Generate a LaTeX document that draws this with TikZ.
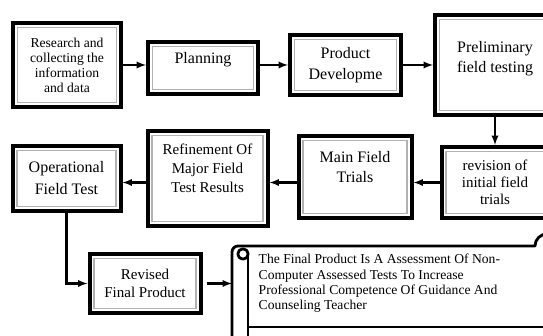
\documentclass[tikz,border=0pt]{standalone}
\usepackage{fontspec}
\setmainfont{Liberation Serif}
\usetikzlibrary{arrows}
\usetikzlibrary{positioning}

\begin{document}
\begin{tikzpicture}[x=1pt, y=1pt, >=latex,
        stage/.style={draw, rectangle, line width=4pt, align=center, inner sep=2pt,
                      font=\fontsize{16}{19.5}\selectfont},
        rim/.style={draw=gray!60, line width=1.1pt},
        flow/.style={->, line width=2.2pt},
        scroll/.style={draw, line width=2.8pt, line join=round}]
        \clip (0,0) rectangle (543,336);

        % first row
        \node[stage, minimum width=108pt, minimum height=84pt,
              font=\fontsize{13.6}{15}\selectfont] (research) at (67,271)
              {Research and\\collecting the\\information\\and data};
        \node[stage, minimum width=110pt, minimum height=52pt, text depth=19.5pt]
              (planning) [right=23pt of research, yshift=-3pt] {Planning};
        \node[stage, minimum width=111pt, minimum height=60pt, font=\fontsize{16}{21}\selectfont]
              (product) [right=28pt of planning, yshift=3pt] {Product\\Developme};
        \node[stage, minimum width=120pt, minimum height=100pt, text depth=16pt]
              (preliminary) [right=30pt of product] {Preliminary\\field testing};

        % second row
        \node[stage, minimum width=107pt, minimum height=71pt, font=\fontsize{15}{17}\selectfont]
              (revision) [below=28pt of preliminary] {revision of\\initial field\\trials};
        \node[stage, minimum width=113pt, minimum height=82pt, text depth=20pt]
              (main) [left=26pt of revision, yshift=5.5pt] {Main Field\\Trials};
        \node[stage, minimum width=120pt, minimum height=95pt, text depth=20pt,
              font=\fontsize{15}{19}\selectfont]
              (refinement) [left=27pt of main, yshift=-1.5pt] {Refinement Of\\Major Field\\Test Results};
        \node[stage, minimum width=108pt, minimum height=65pt, font=\fontsize{16}{22}\selectfont]
              (operational) [left=23pt of refinement] {Operational\\Field Test};

        % last row
        \node[stage, minimum width=111pt, minimum height=59pt, font=\fontsize{15}{18.3}\selectfont]
              (revised) [below right=39pt and -35pt of operational] {Revised\\Final Product};

        \foreach \n in {research, planning, product, preliminary, revision, main,
                        refinement, operational, revised}
            \draw[rim] ([shift={(6.5pt,6.5pt)}]\n.south west) rectangle ([shift={(-6.5pt,-6.5pt)}]\n.north east);

        % scroll
        \draw[scroll] (232,-10) -- (232,84) arc[start angle=180, end angle=90, radius=6]
              -- (535,90) arc[start angle=180, end angle=90, radius=12];
        \draw[scroll] (243,82) circle (5.2);
        \draw[scroll] (248,82) -- (248,-10);
        \draw[scroll] (248,9) -- (543,9);
        \coordinate (scrollin) at (232,52.5);
        \node[anchor=north west, align=left, inner sep=0pt,
              font=\fontsize{13.6}{15.3}\selectfont] (final) at (258.5,82)
              {The Final Product Is A Assessment Of Non-\\Computer Assessed Tests To Increase\\
               Professional Competence Of Guidance And\\Counseling Teacher};

        % connectors
        \draw[flow] (research.east) -- (research.east -| planning.west);
        \draw[flow] (planning.east |- product.west) -- (product.west);
        \draw[flow] (product) -- (preliminary);
        \draw[flow] (preliminary) -- (revision);
        \draw[flow] (revision.west) -- (revision.west -| main.east);
        \draw[flow] (main.west |- revision.west) -- (revision.west -| refinement.east);
        \draw[flow] (refinement.west |- revision.west) -- (revision.west -| operational.east);
        \draw[flow] (operational.south) |- (revised.west);
        \draw[flow, shorten <=4pt] (revised.east) -- (scrollin);
    \end{tikzpicture}
\end{document}
